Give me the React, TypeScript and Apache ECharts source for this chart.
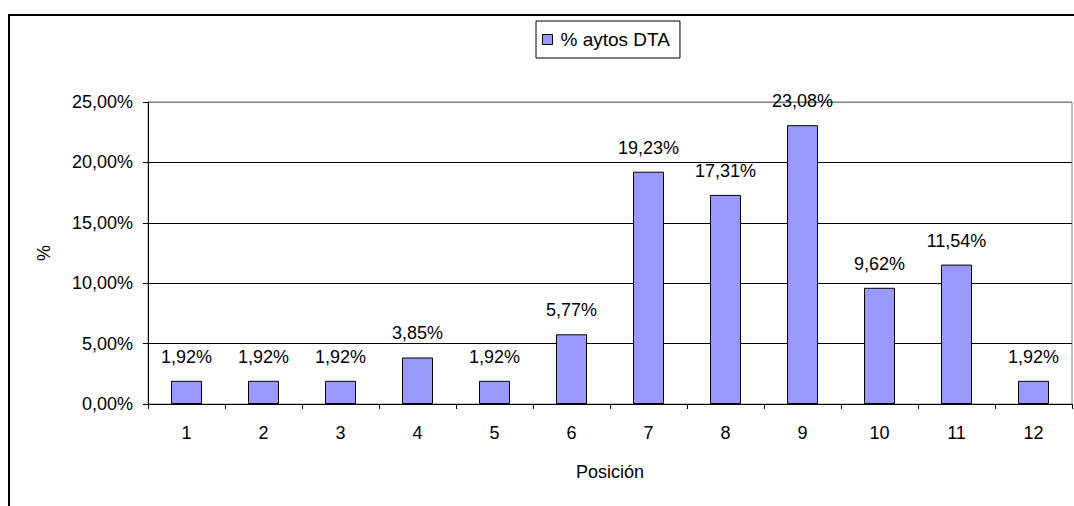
import React, { useEffect, useRef } from "react";
import * as echarts from "echarts";

const categories = ["1", "2", "3", "4", "5", "6", "7", "8", "9", "10", "11", "12"];
const values = [1.92, 1.92, 1.92, 3.85, 1.92, 5.77, 19.23, 17.31, 23.08, 9.62, 11.54, 1.92];
const seriesName = "% aytos DTA";
const xName = "Posición";
const yName = "%";

const fmt = (v: number) => v.toFixed(2).replace(".", ",") + "%";
const FONT = "'Liberation Sans', Arial, sans-serif";

export default function App() {
  const ref = useRef<HTMLDivElement>(null);
  useEffect(() => {
    if (!ref.current) return;
    const chart = echarts.init(ref.current, undefined, { renderer: "svg" });
    chart.setOption({
      animation: false,
      backgroundColor: "#fff",
      textStyle: { fontFamily: FONT },
      graphic: [
        {
          type: "rect",
          shape: { x: 9, y: 15, width: 1100, height: 600 },
          style: { fill: "none", stroke: "#000", lineWidth: 2 },
          silent: true,
          z: 100,
        },
      ],
      legend: {
        data: [seriesName],
        left: 536,
        top: 21,
        padding: [9, 10, 9, 6],
        borderColor: "#000",
        borderWidth: 1,
        backgroundColor: "#fff",
        itemWidth: 10,
        itemHeight: 10,
        icon: "rect",
        itemStyle: { borderColor: "#000", borderWidth: 1 },
        textStyle: { fontFamily: FONT, fontSize: 19, color: "#000", padding: [0, 0, 0, 3] },
      },
      grid: {
        left: 148,
        top: 102,
        right: 2,
        bottom: 102,
        show: true,
        borderColor: "#808080",
        borderWidth: 1,
        containLabel: false,
      },
      xAxis: {
        type: "category",
        data: categories,
        name: xName,
        nameLocation: "middle",
        nameGap: 59,
        nameTextStyle: { fontFamily: FONT, fontSize: 18, color: "#000" },
        axisLine: { lineStyle: { color: "#000", width: 1 } },
        axisTick: { show: true, length: 5, alignWithLabel: false, lineStyle: { color: "#000" } },
        axisLabel: { fontFamily: FONT, fontSize: 18, color: "#000", margin: 20 },
      },
      yAxis: {
        type: "value",
        min: 0,
        max: 25,
        interval: 5,
        name: yName,
        nameLocation: "middle",
        nameRotate: 90,
        nameGap: 95,
        nameTextStyle: { fontFamily: FONT, fontSize: 18, color: "#000" },
        axisLine: { show: true, lineStyle: { color: "#000", width: 1 } },
        axisTick: { show: true, length: 5, lineStyle: { color: "#000" } },
        axisLabel: { fontFamily: FONT, fontSize: 18, color: "#000", margin: 15, formatter: (v: number) => fmt(v) },
        splitLine: {
          show: true,
          lineStyle: { color: ["#000", "#000", "#000", "#000", "#000", "#808080"], width: 1 },
        },
      },
      series: [
        {
          name: seriesName,
          type: "bar",
          data: values,
          barWidth: 31,
          itemStyle: { color: "#9999FF", borderColor: "#000", borderWidth: 1 },
          label: {
            show: true,
            position: "top",
            distance: 15,
            fontFamily: FONT,
            fontSize: 18,
            color: "#000",
            formatter: (p: any) => fmt(p.value),
          },
        },
      ],
    });
    return () => chart.dispose();
  }, []);
  return (
    <div
      ref={ref}
      style={{ position: "fixed", left: 0, top: 0, width: 1074, height: 506, background: "#fff" }}
    />
  );
}
